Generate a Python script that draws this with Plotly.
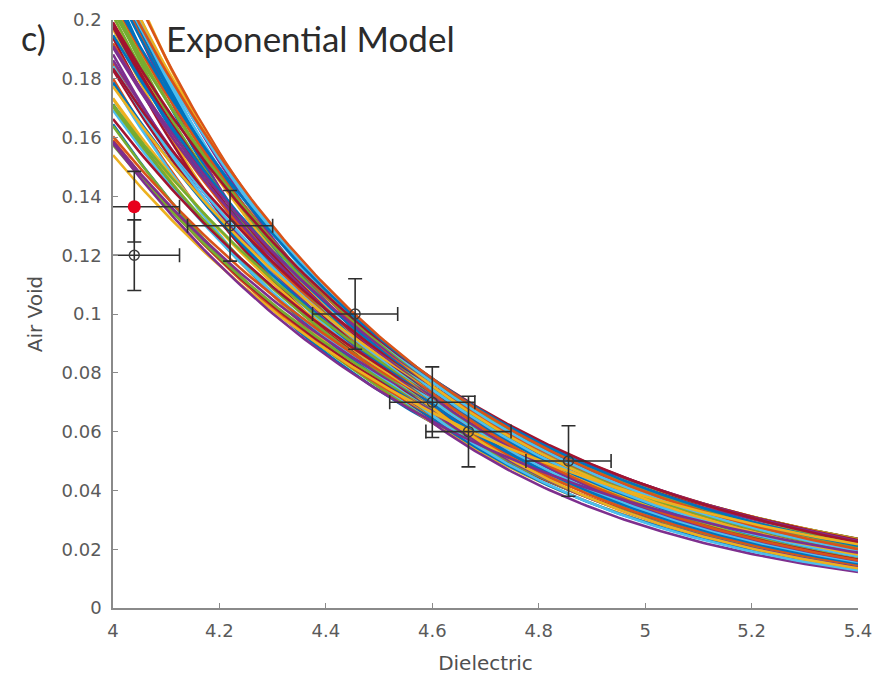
import numpy as np
import plotly.graph_objects as go

# ---- data ----
# Ensemble of exponential model curves: value at Dielectric = 4.6 and decay rate
curve_val_at_4p6 = [0.063, 0.063, 0.063, 0.063,
                    0.0643, 0.0643, 0.0643, 0.0643,
                    0.0655, 0.0655, 0.0655, 0.0655, 0.0655,
                    0.0668, 0.0668, 0.0668, 0.0668, 0.0668,
                    0.068, 0.068, 0.068, 0.068, 0.068, 0.068,
                    0.0693, 0.0693, 0.0693, 0.0693, 0.0693,
                    0.0705, 0.0705, 0.0705, 0.0705, 0.0705,
                    0.0718, 0.0718, 0.0718, 0.0718, 0.0718,
                    0.073, 0.073, 0.073, 0.073, 0.073,
                    0.0743, 0.0743, 0.0743, 0.0743,
                    0.0755, 0.0755, 0.0755, 0.0755,
                    0.0768, 0.0768, 0.0768,
                    0.078, 0.078, 0.078,
                    0.0665, 0.0635]
curve_decay = [1.60, 1.75, 1.90, 2.05,
               1.56, 1.70, 1.84, 1.98,
               1.48, 1.62, 1.76, 1.90, 2.04,
               1.44, 1.57, 1.70, 1.84, 1.97,
               1.40, 1.52, 1.65, 1.78, 1.92, 2.02,
               1.38, 1.50, 1.63, 1.76, 1.90,
               1.37, 1.50, 1.62, 1.75, 1.88,
               1.40, 1.52, 1.64, 1.76, 1.87,
               1.42, 1.54, 1.66, 1.78, 1.88,
               1.45, 1.57, 1.69, 1.80,
               1.48, 1.58, 1.68, 1.78,
               1.52, 1.62, 1.72,
               1.56, 1.63, 1.70,
               1.40, 1.52]

# measured points (black open circles)
pt_x = [4.04, 4.22, 4.455, 4.60, 4.668, 4.856]
pt_y = [0.120, 0.130, 0.100, 0.070, 0.060, 0.050]
pt_xerr = [0.085, 0.08, 0.08, 0.08, 0.08, 0.08]
pt_yerr = [0.012, 0.012, 0.012, 0.012, 0.012, 0.012]

# highlighted point (red)
red_x = [4.04]
red_y = [0.1365]
red_xerr = [0.085]
red_yerr = [0.012]

x_ticks = [4, 4.2, 4.4, 4.6, 4.8, 5, 5.2, 5.4]
x_ticklabels = ["4", "4.2", "4.4", "4.6", "4.8", "5", "5.2", "5.4"]
y_ticks = [0, 0.02, 0.04, 0.06, 0.08, 0.1, 0.12, 0.14, 0.16, 0.18, 0.2]
y_ticklabels = ["0", "0.02", "0.04", "0.06", "0.08", "0.1", "0.12", "0.14", "0.16", "0.18", "0.2"]

matlab_colors = ["#0072BD", "#D95319", "#EDB120", "#7E2F8E", "#77AC30", "#4DBEEE", "#A2142F"]

# ---- figure ----
fig = go.Figure()
xs = np.linspace(4.0, 5.4, 141)
for i, (v, b) in enumerate(zip(curve_val_at_4p6, curve_decay)):
    ys = v * np.exp(-b * (xs - 4.6))
    fig.add_trace(go.Scatter(x=xs, y=ys, mode="lines",
                             line=dict(color=matlab_colors[i % 7], width=2.6),
                             showlegend=False, hoverinfo="skip"))

err_col = "#2e2e2e"
fig.add_trace(go.Scatter(
    x=pt_x, y=pt_y, mode="markers",
    marker=dict(symbol="circle-open", size=10, color="#3a3a3a", line=dict(width=1.4, color="#3a3a3a")),
    error_x=dict(type="data", array=pt_xerr, color=err_col, thickness=1.6, width=7),
    error_y=dict(type="data", array=pt_yerr, color=err_col, thickness=1.6, width=7),
    showlegend=False))
fig.add_trace(go.Scatter(
    x=red_x, y=red_y, mode="markers",
    marker=dict(symbol="circle", size=13, color="#E8001C", line=dict(width=0)),
    error_x=dict(type="data", array=red_xerr, color=err_col, thickness=1.6, width=7),
    error_y=dict(type="data", array=red_yerr, color=err_col, thickness=1.6, width=7),
    showlegend=False))

tick_font = dict(family="DejaVu Sans", size=18, color="#5a5a5a")
title_font = dict(family="DejaVu Sans", size=20, color="#505050")
axis_common = dict(showline=True, linecolor="#8a8a8a", linewidth=1.6, mirror=False,
                   ticks="inside", ticklen=5, tickcolor="#8a8a8a", tickwidth=1,
                   showgrid=False, zeroline=False, tickfont=tick_font, automargin=False)

fig.update_xaxes(range=[4, 5.4], tickvals=x_ticks, ticktext=x_ticklabels,
                 ticklabelstandoff=6,
                 title=dict(text="Dielectric", font=title_font, standoff=16),
                 **axis_common)
fig.update_yaxes(range=[0, 0.2], tickvals=y_ticks, ticktext=y_ticklabels,
                 ticklabelstandoff=6,
                 title=dict(text="Air Void", font=title_font, standoff=14),
                 **axis_common)

fig.add_annotation(text="c)", xref="paper", yref="paper", x=-0.126, y=0.97,
                   xanchor="left", yanchor="middle", showarrow=False,
                   font=dict(family="Lato", size=34, color="#2b2b2b"))
fig.add_annotation(text="Exponential Model", xref="paper", yref="paper", x=0.068, y=0.97,
                   xanchor="left", yanchor="middle", showarrow=False,
                   font=dict(family="Lato", size=35, color="#2b2b2b"))

fig.update_layout(width=876, height=681, margin=dict(l=113, r=18, t=20, b=73),
                  plot_bgcolor="white", paper_bgcolor="white")

fig.write_html("out.html")
